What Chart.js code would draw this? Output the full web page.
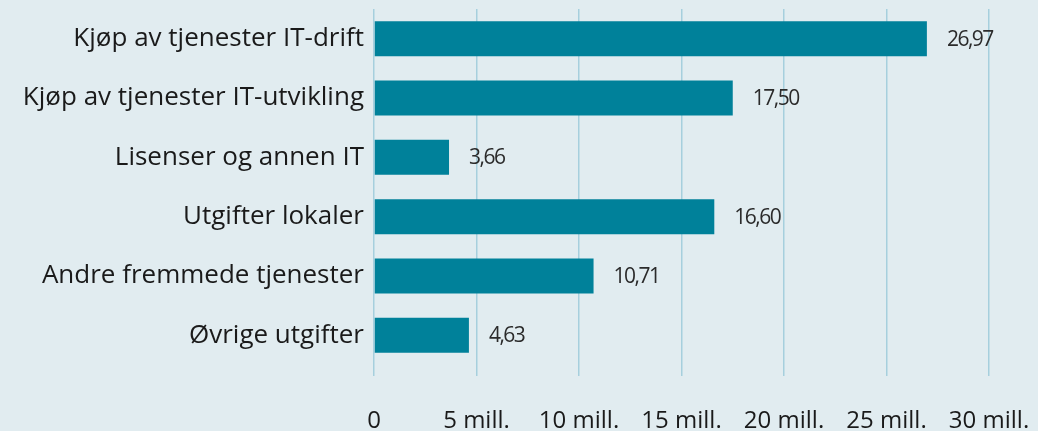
<!DOCTYPE html>
<html>
<head>
<meta charset="utf-8">
<script src="https://cdn.jsdelivr.net/npm/chart.js@4.4.1/dist/chart.umd.min.js"></script>
<style>
  html, body { margin: 0; padding: 0; background: #e1ecf0; }
  #wrap { width: 1038px; height: 431px; }
</style>
</head>
<body>
<div id="wrap"><canvas id="costChart" width="1038" height="431"></canvas></div>
<script>
// categories and values (mill. kr)
const categories = [
  "Kjøp av tjenester IT-drift",
  "Kjøp av tjenester IT-utvikling",
  "Lisenser og annen IT",
  "Utgifter lokaler",
  "Andre fremmede tjenester",
  "Øvrige utgifter"
];
const values = [26.97, 17.50, 3.66, 16.60, 10.71, 4.63];
const tickValues = [0, 5, 10, 15, 20, 25, 30];
const tickLabels = ["0", "5 mill.", "10 mill.", "15 mill.", "20 mill.", "25 mill.", "30 mill."];

const FONT = "'Open Sans', sans-serif";

// value labels to the right of each bar
const valueLabels = {
  id: "valueLabels",
  afterDatasetsDraw(chart) {
    const ctx = chart.ctx;
    const meta = chart.getDatasetMeta(0);
    ctx.save();
    ctx.font = "21px " + FONT;
    ctx.letterSpacing = "-1.5px";
    ctx.fillStyle = "#2b2b2b";
    ctx.textAlign = "left";
    ctx.textBaseline = "middle";
    meta.data.forEach((bar, i) => {
      const txt = values[i].toFixed(2).replace(".", ",");
      ctx.fillText(txt, bar.x + 20, bar.y + 1);
    });
    ctx.restore();
  }
};

new Chart(document.getElementById("costChart"), {
  type: "bar",
  data: {
    labels: categories,
    datasets: [{
      data: values,
      backgroundColor: "#00819a",
      categoryPercentage: 1,
      barPercentage: 0.59
    }]
  },
  options: {
    indexAxis: "y",
    responsive: false,
    animation: false,
    layout: { padding: { top: 9, right: 49, left: 0, bottom: 0 } },
    plugins: { legend: { display: false }, tooltip: { enabled: false } },
    scales: {
      x: {
        min: 0,
        max: 30,
        afterBuildTicks(scale) {
          scale.ticks = tickValues.map(v => ({ value: v }));
        },
        afterFit(scale) {
          scale.height = 66;
          scale.paddingLeft = 0;
          scale.paddingRight = 0;
        },
        grid: { color: "#a6cfdd", lineWidth: 1.5, tickLength: 11, drawTicks: true },
        border: { display: false },
        ticks: {
          padding: 31,
          color: "#1a1a1a",
          font: { family: FONT, size: 24 },
          maxRotation: 0,
          autoSkip: false,
          callback: (v, i) => tickLabels[i]
        }
      },
      y: {
        afterFit(scale) {
          scale.width = 374;
          scale.paddingTop = 0;
          scale.paddingBottom = 0;
        },
        grid: { display: false },
        border: { display: false },
        ticks: {
          padding: 2,
          color: "#1a1a1a",
          font: { family: FONT, size: 26 }
        }
      }
    }
  },
  plugins: [valueLabels]
});
</script>
</body>
</html>
